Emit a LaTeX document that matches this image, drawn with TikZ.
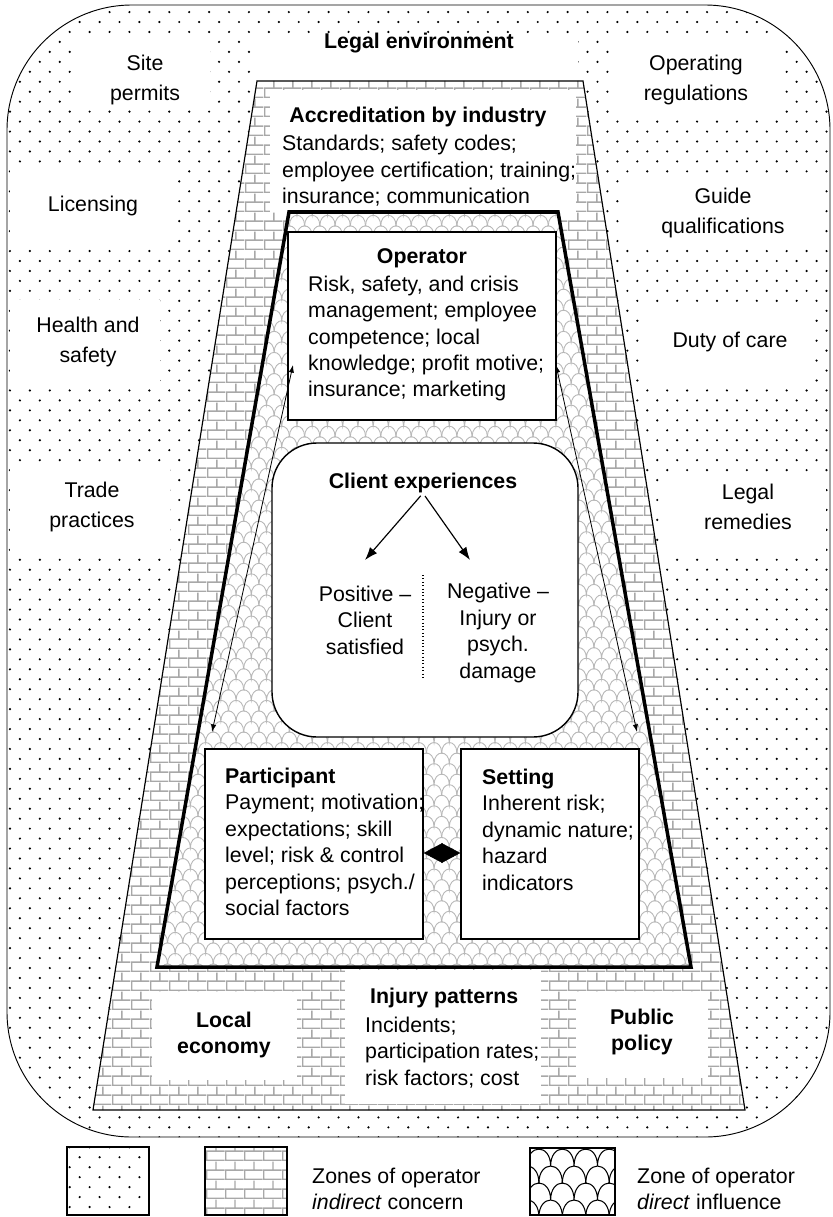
\documentclass[tikz,border=0pt]{standalone}
\usepackage{fontspec}
\setmainfont{Liberation Sans}
\usetikzlibrary{patterns,arrows.meta,fit,calc}

\pgfdeclarepatternformonly{ldotsb}{\pgfqpoint{-1.5pt}{-1.5pt}}{\pgfqpoint{18.5pt}{18.5pt}}{\pgfqpoint{17pt}{17pt}}{%
  \pgfpathcircle{\pgfqpoint{0pt}{0pt}}{1.05pt}%
  \pgfpathcircle{\pgfqpoint{8.5pt}{8.5pt}}{1.05pt}%
  \pgfusepath{fill}}
\pgfdeclarepatternformonly{lbrick}{\pgfqpoint{0pt}{0pt}}{\pgfqpoint{16pt}{16pt}}{\pgfqpoint{16pt}{16pt}}{%
  \pgfsetlinewidth{1.2pt}%
  \pgfpathmoveto{\pgfqpoint{0pt}{0.6pt}}\pgfpathlineto{\pgfqpoint{16pt}{0.6pt}}%
  \pgfpathmoveto{\pgfqpoint{0pt}{8.6pt}}\pgfpathlineto{\pgfqpoint{16pt}{8.6pt}}%
  \pgfpathmoveto{\pgfqpoint{0.6pt}{0pt}}\pgfpathlineto{\pgfqpoint{0.6pt}{8.6pt}}%
  \pgfpathmoveto{\pgfqpoint{8.6pt}{8.6pt}}\pgfpathlineto{\pgfqpoint{8.6pt}{16pt}}%
  \pgfusepath{stroke}}
% small scales for the direct-influence zone
\pgfdeclarepatternformonly{lscale}{\pgfqpoint{-1pt}{-1pt}}{\pgfqpoint{14pt}{19pt}}{\pgfqpoint{13pt}{18pt}}{%
  \pgfsetlinewidth{0.75pt}%
  \pgfpathmoveto{\pgfqpoint{0pt}{0pt}}%
  \pgfpathcurveto{\pgfqpoint{0pt}{12pt}}{\pgfqpoint{13pt}{12pt}}{\pgfqpoint{13pt}{0pt}}%
  \pgfpathmoveto{\pgfqpoint{-6.5pt}{9pt}}%
  \pgfpathcurveto{\pgfqpoint{-6.5pt}{21pt}}{\pgfqpoint{6.5pt}{21pt}}{\pgfqpoint{6.5pt}{9pt}}%
  \pgfpathcurveto{\pgfqpoint{6.5pt}{21pt}}{\pgfqpoint{19.5pt}{21pt}}{\pgfqpoint{19.5pt}{9pt}}%
  \pgfusepath{stroke}}
% larger scales for the legend
\pgfdeclarepatternformonly{lscalebig}{\pgfqpoint{-1pt}{-1pt}}{\pgfqpoint{21pt}{30pt}}{\pgfqpoint{20pt}{29pt}}{%
  \pgfsetlinewidth{0.9pt}%
  \pgfpathmoveto{\pgfqpoint{0pt}{0pt}}%
  \pgfpathcurveto{\pgfqpoint{0pt}{19.3pt}}{\pgfqpoint{20pt}{19.3pt}}{\pgfqpoint{20pt}{0pt}}%
  \pgfpathmoveto{\pgfqpoint{-10pt}{14.5pt}}%
  \pgfpathcurveto{\pgfqpoint{-10pt}{33.8pt}}{\pgfqpoint{10pt}{33.8pt}}{\pgfqpoint{10pt}{14.5pt}}%
  \pgfpathcurveto{\pgfqpoint{10pt}{33.8pt}}{\pgfqpoint{30pt}{33.8pt}}{\pgfqpoint{30pt}{14.5pt}}%
  \pgfusepath{stroke}}

\definecolor{brickgray}{gray}{0.66}
\definecolor{scalegray}{gray}{0.72}

\begin{document}
\begin{tikzpicture}[x=0.3mm,y=-0.3mm,
  txt/.style={font=\fontsize{18.2pt}{22.6pt}\selectfont, inner sep=0pt},
  btxt/.style={font=\fontsize{18.2pt}{22.6pt}\selectfont\bfseries, inner sep=0pt},
  olab/.style={font=\fontsize{18.2pt}{25.6pt}\selectfont, inner sep=0pt, align=center},
  boxn/.style={draw, line width=1.2pt, fill=white, inner sep=0pt},
  thinarr/.style={{Latex[length=6.5pt,width=4.5pt]}-{Latex[length=6.5pt,width=4.5pt]}, line width=0.7pt},
  carr/.style={-{Latex[length=11pt,width=8pt]}, line width=1pt},
  diam/.style={{Triangle[length=16pt,width=17pt]}-{Triangle[length=16pt,width=17pt]}, line width=0.4pt},
  dotzone/.style={preaction={fill=white}, pattern=ldotsb, pattern color=black},
  brickzone/.style={preaction={fill=white}, pattern=lbrick, pattern color=brickgray},
]
\useasboundingbox (0,0) rectangle (833,1217);
\fill[white] (0,0) rectangle (833,1217);

% outer legal environment zone
\path[dotzone, rounded corners=37.5mm] (7,5) rectangle (830,1137);
% label clearings
\fill[white] (255,38) rectangle (578,81);
\fill[white] (78,38) rectangle (210,108);
\fill[white] (10,170) rectangle (172,248);
\fill[white] (10,300) rectangle (160,383);
\fill[white] (10,468) rectangle (170,555);
\fill[white] (610,38) rectangle (780,118);
\fill[white] (626,178) rectangle (820,247);
\fill[white] (646,305) rectangle (810,382);
\fill[white] (663,472) rectangle (826,552);
\draw[line width=0.8pt, rounded corners=37.5mm] (7,5) rectangle (830,1137);

% indirect concern trapezoid (bricks)
\path[brickzone] (257,81) -- (583,81) -- (745,1110) -- (93,1110) -- cycle;
\fill[white] (270,90) rectangle (576,212);
\fill[white] (152,992) rectangle (297,1080);
\fill[white] (345,970) rectangle (541,1104);
\fill[white] (576,992) rectangle (708,1078);
\draw[line width=1pt] (257,81) -- (583,81) -- (745,1110) -- (93,1110) -- cycle;

% direct influence trapezoid
\path[preaction={fill=white}, pattern=lscale, pattern color=scalegray] (289,212) -- (558,212) -- (691,967) -- (157,967) -- cycle;
\draw[line width=3pt, line join=miter] (289,212) -- (558,212) -- (691,967) -- (157,967) -- cycle;

% boxes
\node[boxn, fit={(288,232)(556,420)}] (opbox) {};
\node[boxn, rounded corners=13.5mm, fit={(272,443)(578,737)}] (clbox) {};
\node[boxn, fit={(205,749)(423,939)}] (partbox) {};
\node[boxn, fit={(461,749)(639,939)}] (setbox) {};

% outer labels
\node[btxt] (legal) at (419,43) {Legal environment};
\node[olab] (site) at (145,80) {Site\\permits};
\node[olab] (lic) at (93,206) {Licensing};
\node[olab] (health) at (88,342) {Health and\\safety};
\node[olab] (trade) at (92,507) {Trade\\practices};
\node[olab] (opreg) at (696,80) {Operating\\regulations};
\node[olab] (guide) at (723,213) {Guide\\qualifications};
\node[olab] (duty) at (730,342) {Duty of care};
\node[olab] (remed) at (748,507) {Legal\\remedies};

% accreditation
\node[btxt] (acct) at (418,117) {Accreditation by industry};
\node[txt, align=left, anchor=west] (accb) at (282,171) {Standards; safety codes;\\employee certification; training;\\insurance; communication};

% operator
\node[btxt] (opt) at (422,258) {Operator};
\node[txt, align=left, anchor=west] (opb) at (308,338.5) {Risk, safety, and crisis\\management; employee\\competence; local\\knowledge; profit motive;\\insurance; marketing};

% client experiences
\node[btxt] (ct) at (423,483) {Client experiences};
\node[txt, align=center] (pos) at (365,620) {Positive –\\Client\\satisfied};
\node[txt, align=center] (neg) at (498,633) {Negative –\\Injury or\\psych.\\damage};
\coordinate (cP) at (365,560);
\coordinate (cN) at (470,560);
\draw[carr, shorten <=3pt] (ct.south) -- (cP);
\draw[carr, shorten <=3pt] (ct.south) -- (cN);
\draw[dotted, line width=0.9pt] (423,575) -- (423,678);

% participant and setting
\node[txt, align=left, anchor=west] (partt) at (225,842) {\textbf{Participant}\\Payment; motivation;\\expectations; skill\\level; risk \& control\\perceptions; psych./\\social factors};
\node[txt, align=left, anchor=west] (sett) at (482,829.5) {\textbf{Setting}\\Inherent risk;\\dynamic nature;\\hazard\\indicators};
\draw[diam] ($(partbox.east)+(0,9)$) -- ($(setbox.west)+(0,9)$);

% operator <-> participant / setting
\coordinate (opL) at (293,365);
\coordinate (paL) at (212,732);
\coordinate (opR) at (556,365);
\coordinate (seR) at (637,732);
\draw[thinarr] (paL) -- (opL);
\draw[thinarr] (seR) -- (opR);

% bottom zone
\node[btxt, align=center] (loc) at (224,1035) {Local\\economy};
\node[btxt, align=center] (pub) at (642,1032) {Public\\policy};
\node[btxt, anchor=west] (injt) at (370,998) {Injury patterns};
\node[txt, align=left, anchor=west] (injb) at (365,1052.5) {Incidents;\\participation rates;\\risk factors; cost};

% legend
\node[draw, line width=1.2pt, inner sep=0pt, dotzone, fit={(67,1147)(149,1215)}] (lg1) {};
\node[draw, line width=1.2pt, inner sep=0pt, brickzone, fit={(205,1147)(287,1215)}] (lg2) {};
\node[draw, line width=1.2pt, inner sep=0pt, preaction={fill=white}, pattern=lscalebig, pattern color=black, fit={(530,1148)(615,1215)}] (lg3) {};
\node[txt, align=left, anchor=west] (lt1) at (312,1189) {Zones of operator\\\textit{indirect} concern};
\node[txt, align=left, anchor=west] (lt2) at (637,1189) {Zone of operator\\\textit{direct} influence};
\end{tikzpicture}
\end{document}
